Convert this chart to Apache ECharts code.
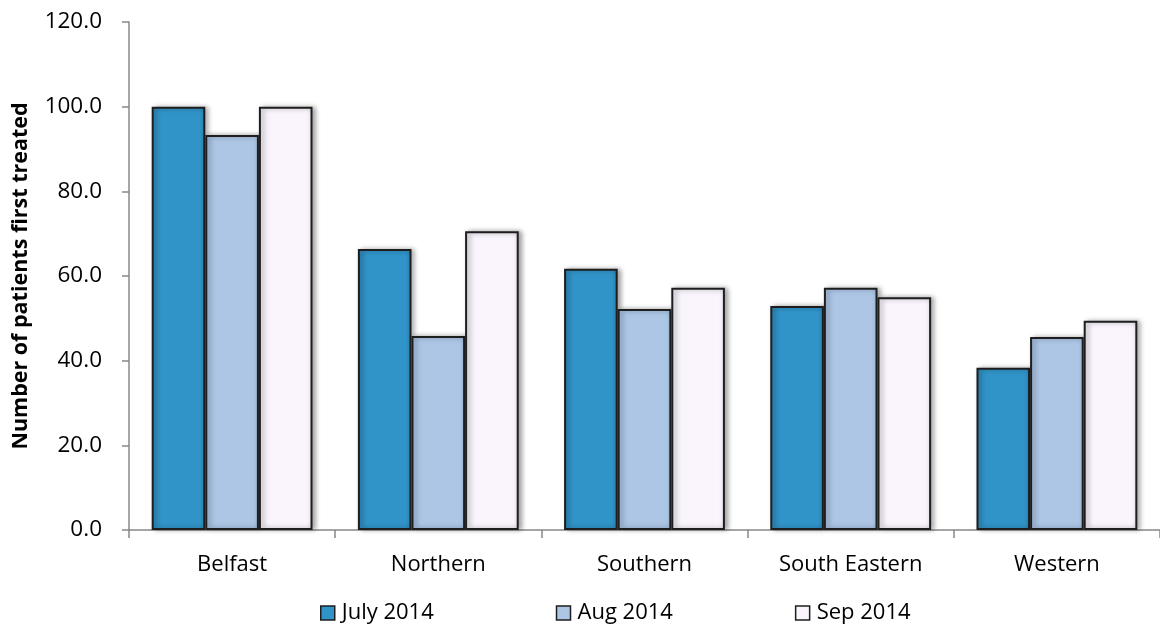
<!DOCTYPE html>
<html>
<head>
<meta charset="utf-8">
<script src="https://cdn.jsdelivr.net/npm/echarts@6/dist/echarts.min.js"></script>
<style>html,body{margin:0;padding:0;background:#fff}#c{width:1160px;height:630px}</style>
</head>
<body>
<div id="c"></div>
<script>
var categories = ['Belfast', 'Northern', 'Southern', 'South Eastern', 'Western'];
var july2014 = [100.0, 66.4, 61.7, 52.9, 38.3];
var aug2014 = [93.3, 45.8, 52.2, 57.2, 45.6];
var sep2014 = [100.0, 70.6, 57.2, 55.0, 49.4];
var seriesNames = ['July 2014', 'Aug 2014', 'Sep 2014'];
var yTicks = [0, 20, 40, 60, 80, 100, 120];

var FONT = '"Open Sans", sans-serif';
function grad(c1, c2, c3) {
  return new echarts.graphic.LinearGradient(0, 0, 1, 0, [
    {offset: 0, color: c1}, {offset: 0.12, color: c2}, {offset: 0.88, color: c2}, {offset: 1, color: c3}
  ]);
}
var colors = [
  grad('#2a84b6', '#3194c8', '#2a84b6'),
  grad('#a2bcdc', '#adc6e6', '#a2bcdc'),
  grad('#ece6f0', '#faf5fd', '#ece6f0')
];
function mk(name, data, col) {
  return {
    name: name, type: 'bar', data: data, barGap: '0%', barCategoryGap: '22%',
    itemStyle: {color: col, borderColor: '#1e1e1e', borderWidth: 2,
      shadowColor: 'rgba(0,0,0,0.35)', shadowBlur: 5, shadowOffsetX: 3, shadowOffsetY: 0}
  };
}
var chart = echarts.init(document.getElementById('c'));
chart.setOption({
  animation: false,
  textStyle: {fontFamily: FONT},
  grid: {left: 129, right: 0, top: 22, bottom: 100, containLabel: false},
  legend: {
    bottom: 1, left: 315, itemGap: 122, itemWidth: 14, itemHeight: 14, icon: 'rect', itemStyle: {borderWidth: 1.5},
    textStyle: {fontFamily: FONT, fontSize: 22, color: '#000', padding: [0, 0, 0, 2]},
    data: seriesNames
  },
  xAxis: {
    type: 'category', data: categories,
    axisLine: {lineStyle: {color: '#888', width: 1.5}},
    axisTick: {show: true, length: 8, lineStyle: {color: '#888', width: 1.5}},
    axisLabel: {fontFamily: FONT, fontSize: 22, color: '#000', margin: 24}
  },
  yAxis: {
    type: 'value', min: 0, max: 120, interval: 20,
    name: 'Number of patients first treated', nameLocation: 'middle', nameRotate: 90, nameGap: 97,
    nameTextStyle: {fontFamily: FONT, fontSize: 21.5, fontWeight: 'bold', color: '#000'},
    axisLine: {show: true, lineStyle: {color: '#888', width: 1.5}},
    axisTick: {show: true, length: 7, lineStyle: {color: '#888', width: 1.5}},
    splitLine: {show: false},
    axisLabel: {fontFamily: FONT, fontSize: 22.5, color: '#000', margin: 27,
      formatter: function (v) { return yTicks.indexOf(v) >= 0 ? v.toFixed(1) : ''; }}
  },
  series: [mk(seriesNames[0], july2014, colors[0]), mk(seriesNames[1], aug2014, colors[1]), mk(seriesNames[2], sep2014, colors[2])]
});
</script>
</body>
</html>
